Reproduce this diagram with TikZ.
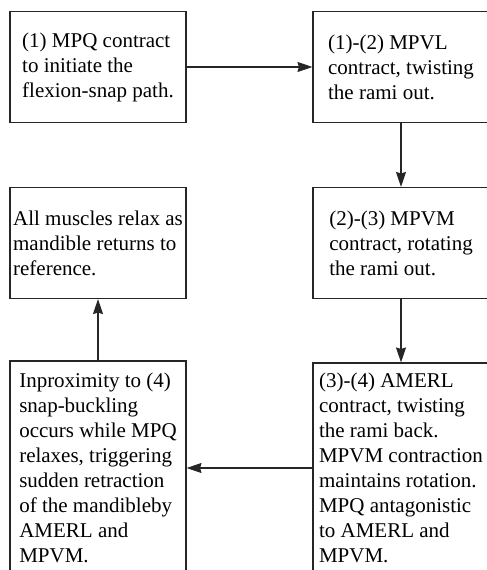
\documentclass[tikz,border=0pt]{standalone}
\usepackage{fontspec}
\setmainfont{Liberation Serif}
\usetikzlibrary{arrows.meta}
\newcommand{\boxwidth}{176}
\newcommand{\stagefont}{\fontsize{21}{25}\selectfont}

\begin{document}
\begin{tikzpicture}[x=1pt,y=-1pt,
	stage/.style={draw=black!85, line width=1.1pt, inner sep=0pt, align=left,
		minimum width=\boxwidth pt, minimum height=111pt, font=\stagefont},
	tall/.style={minimum height=#1pt},
	flow/.style={draw=black!85, line width=1.1pt, -{Stealth[length=15pt,width=10pt,inset=1.5pt]}}]
	\useasboundingbox (0,0) rectangle (487,570);

	\node[stage] (MPQ) at (98,67) {(1) MPQ contract\\to initiate the\\flexion-snap path.};
	\node[stage] (MPVL) at (401,67) {(1)-(2) MPVL\\contract, twisting\\the rami out.};
	\node[stage] (relax) at (98,243) {All muscles relax as\\mandible returns to\\reference.};
	\node[stage] (MPVM) at (401,243) {(2)-(3) MPVM\\contract, rotating\\the rami out.};
	\node[stage, tall=214] (snap) at (98,468) {Inproximity to (4)\\snap-buckling\\occurs while MPQ\\relaxes, triggering\\sudden retraction\\of the mandibleby\\AMERL and\\MPVM.};
	\node[stage, tall=210] (AMERL) at (401,468) {(3)-(4) AMERL\\contract, twisting\\the rami back.\\MPVM contraction\\maintains rotation.\\MPQ antagonistic\\to AMERL and\\MPVM.};

	\draw[flow] (MPQ) -- (MPVL);
	\draw[flow] (MPVL) -- (MPVM);
	\draw[flow] (MPVM) -- (AMERL);
	\draw[flow] (AMERL) -- (snap);
	\draw[flow] (snap) -- (relax);
\end{tikzpicture}
\end{document}
